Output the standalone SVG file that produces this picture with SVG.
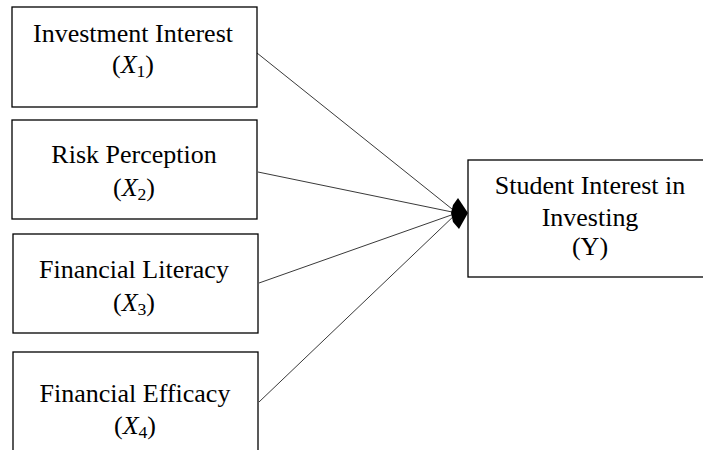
<svg xmlns="http://www.w3.org/2000/svg" width="703" height="450" viewBox="0 0 703 450">
  <style>
    .box { fill: #ffffff; stroke: #000000; stroke-width: 1.3; }
    .lbl { font-family: "Liberation Serif", "Times New Roman", serif; font-size: 25px; fill: #000000; text-anchor: middle; }
    .mx { font-style: italic; }
    .sub { font-size: 17px; }
    .conn { stroke: #222222; stroke-width: 0.9; fill: none; }
  </style>
  <rect x="0" y="0" width="703" height="450" fill="#ffffff"/>

  <g id="connectors">
    <line class="conn" x1="257" y1="53" x2="457" y2="213"/>
    <line class="conn" x1="258" y1="172" x2="457" y2="213"/>
    <line class="conn" x1="259" y1="283" x2="457" y2="213"/>
    <line class="conn" x1="259" y1="402" x2="457" y2="213"/>
    <path d="M458,198 L468,213 L459,229 L453,222 L451,213 L453,205 Z" fill="#000000"/>
  </g>

  <g id="x1">
    <rect class="box" x="12" y="7" width="245" height="100"/>
    <g transform="translate(133 0) scale(1.04 1)">
      <text class="lbl" x="0" y="42">Investment Interest</text>
      <text class="lbl" x="0" y="73">(<tspan class="mx">X</tspan><tspan class="sub" dy="4">1</tspan><tspan dy="-4">)</tspan></text>
    </g>
  </g>

  <g id="x2">
    <rect class="box" x="12" y="120" width="245" height="99"/>
    <g transform="translate(134 0) scale(1.04 1)">
      <text class="lbl" x="0" y="163">Risk Perception</text>
      <text class="lbl" x="0" y="196">(<tspan class="mx">X</tspan><tspan class="sub" dy="4">2</tspan><tspan dy="-4">)</tspan></text>
    </g>
  </g>

  <g id="x3">
    <rect class="box" x="13" y="234" width="245" height="99"/>
    <g transform="translate(134 0) scale(1.04 1)">
      <text class="lbl" x="0" y="278">Financial Literacy</text>
      <text class="lbl" x="0" y="311">(<tspan class="mx">X</tspan><tspan class="sub" dy="4">3</tspan><tspan dy="-4">)</tspan></text>
    </g>
  </g>

  <g id="x4">
    <rect class="box" x="13" y="352" width="245" height="110"/>
    <g transform="translate(135 0) scale(1.04 1)">
      <text class="lbl" x="0" y="402">Financial Efficacy</text>
      <text class="lbl" x="0" y="434">(<tspan class="mx">X</tspan><tspan class="sub" dy="4">4</tspan><tspan dy="-4">)</tspan></text>
    </g>
  </g>

  <g id="y">
    <rect class="box" x="468" y="160" width="244" height="117"/>
    <g transform="translate(590 0) scale(1.04 1)">
      <text class="lbl" x="0" y="194">Student Interest in</text>
      <text class="lbl" x="0" y="226">Investing</text>
      <text class="lbl" x="0" y="255">(Y)</text>
    </g>
  </g>
</svg>
